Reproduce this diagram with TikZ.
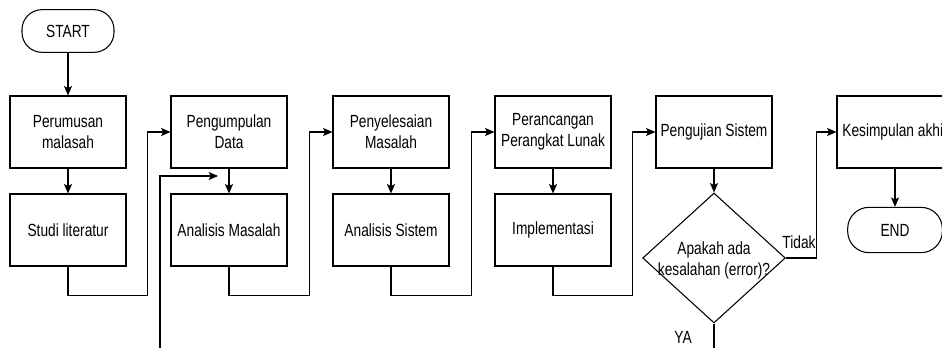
\documentclass[tikz,border=0pt]{standalone}
\usepackage{fontspec}
\setmainfont{Liberation Sans}
\newfontfamily\diagfont[FakeStretch=0.78]{Liberation Sans}
\usetikzlibrary{calc}
\usetikzlibrary{arrows.meta}
\usetikzlibrary{shapes.geometric}

\tikzset{
  proses/.style={draw,line width=0.8pt,minimum width=87pt,minimum height=54pt,align=center,inner sep=1pt,font=\diagfont\fontsize{13.2}{15.75}\selectfont},
  terminal/.style={draw,line width=0.8pt,rounded corners=15pt,minimum width=69pt,minimum height=32pt,inner sep=1pt,font=\diagfont\fontsize{13.2}{15.75}\selectfont},
  keputusan/.style={draw,line width=0.8pt,diamond,minimum width=107pt,minimum height=97.5pt,inner sep=0pt},
  teks/.style={align=center,inner sep=0pt,font=\diagfont\fontsize{13.2}{15.75}\selectfont},
  panah/.style={line width=0.8pt,-{Stealth[length=7pt,width=6pt,inset=1.5pt]}},
  garis/.style={line width=0.8pt}
}

\begin{document}
\begin{tikzpicture}[x=0.75pt,y=-0.75pt]

\useasboundingbox (0,0) rectangle (942,348);
\clip (0,0) rectangle (942,348);

\node[terminal] (mulai) at (68,31) {START};
\node[proses] (p1) at (68,132) {Perumusan\\malasah};
\node[proses] (s1) at (68,230) {Studi literatur};
\node[proses] (p2) at (229,132) {Pengumpulan\\Data};
\node[proses] (s2) at (229,230) {Analisis Masalah};
\node[proses] (p3) at (391,132) {Penyelesaian\\Masalah};
\node[proses] (s3) at (391,230) {Analisis Sistem};
\node[proses] (p4) at (553,132) {Perancangan\\Perangkat Lunak};
\node[proses] (s4) at (553,230) {Implementasi};
\node[proses] (p5) at (714,132) {Pengujian Sistem};
\node[keputusan] (cek) at (714,258) {};
\node[teks] (cekteks) at (714,260) {Apakah ada\\kesalahan (error)?};
\node[proses] (p6) at (895,132) {Kesimpulan akhir};
\node[terminal,minimum width=71pt,minimum height=34pt,rounded corners=16pt] (selesai) at (895,230) {END};

\node[teks] (tidak) at (799,242) {Tidak};
\node[teks] (ya) at (683,337) {YA};

\coordinate (balik) at (160,360);
\coordinate (balikujung) at (218,176);
\coordinate (bawah) at (714,360);

% alur utama
\draw[panah] (mulai) -- (p1);
\foreach \i in {1,...,4}
  \draw[panah] (p\i) -- (s\i);
\draw[panah] (p5) -- (cek);
\draw[panah] (p6) -- (selesai);

\foreach \i in {1,...,4}{
  \pgfmathtruncatemacro{\j}{\i+1}
  \draw[panah] (s\i.south) -- ++(0,29) -| ($(p\j.west)+(-23,0)$) -- (p\j.west);
}

\draw[panah] (cek.east) -| ($(p6.west)+(-20,0)$) -- (p6.west);
\draw[garis] (cek.south) -- (bawah);
\draw[panah] (balik) |- (balikujung);

\end{tikzpicture}
\end{document}
